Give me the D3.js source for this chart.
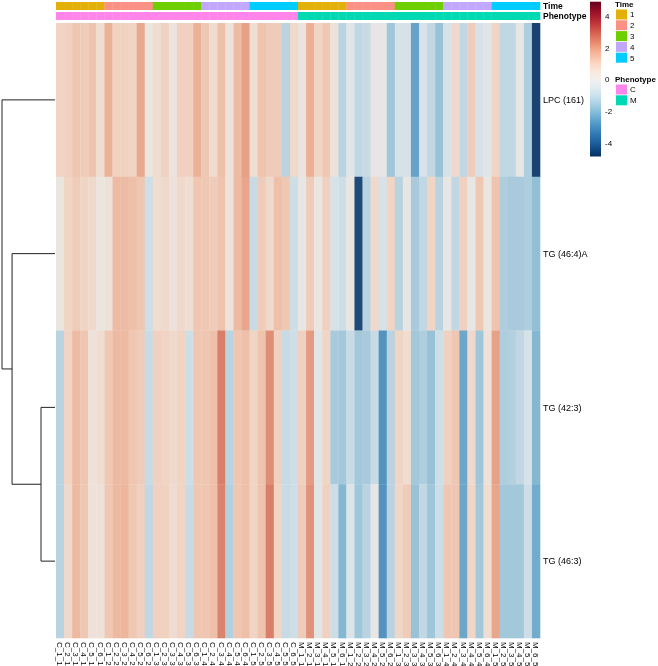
<!DOCTYPE html>
<html><head><meta charset="utf-8">
<script src="https://cdn.jsdelivr.net/npm/d3@7"></script>
<style>
body{margin:0;background:#fff}
text{font-family:"Liberation Sans",Arial,sans-serif;fill:#000}
.lbl{opacity:0.999}
</style>
</head><body>
<svg id="chart" width="658" height="666"></svg>
<script>
// ---------------- data ----------------
const colNames = [
 "C_1_1","C_2_1","C_3_1","C_4_1","C_5_1","C_6_1",
 "C_1_2","C_2_2","C_3_2","C_4_2","C_5_2","C_6_2",
 "C_1_3","C_2_3","C_3_3","C_4_3","C_5_3","C_6_3",
 "C_1_4","C_2_4","C_3_4","C_4_4","C_5_4","C_6_4",
 "C_1_5","C_2_5","C_3_5","C_4_5","C_5_5","C_6_5",
 "M_1_1","M_2_1","M_3_1","M_4_1","M_5_1","M_6_1",
 "M_1_2","M_2_2","M_3_2","M_4_2","M_5_2","M_6_2",
 "M_1_3","M_2_3","M_3_3","M_4_3","M_5_3","M_6_3",
 "M_1_4","M_2_4","M_3_4","M_4_4","M_5_4","M_6_4",
 "M_1_5","M_2_5","M_3_5","M_4_5","M_5_5","M_6_5"
];
const rowNames = ["LPC (161)","TG (46:4)A","TG (42:3)","TG (46:3)"];

const lpc161 = [
 0.9,1.0,1.25,1.1,1.3,0.6, 1.7,0.95,0.95,0.9,1.85,0.2,
 0.6,1.0,0.3,1.0,1.0,1.7, 1.2,0.65,1.4,0.4,1.5,2.0,
 0.6,1.3,1.1,1.1,-1.25,0.75,
 0.3,1.7,0.9,1.2,0.4,-1.25, -0.3,-1.1,-0.95,0.0,0.0,-1.7,
 -0.6,-0.6,-2.6,-0.6,-1.1,-1.8, -0.6,0.75,-1.1,1.1,-0.6,-0.3,
 0.9,-1.1,-1.1,0.0,-1.45,-4.75
];
const tg464A = [
 0.2,0.9,1.1,0.9,0.75,0.2, 0.4,1.5,1.5,1.4,1.25,-0.8,
 0.6,0.75,0.4,0.75,0.6,1.25, 1.2,1.1,1.3,0.4,1.55,1.9,
 -0.95,1.1,0.75,1.4,1.2,-0.8,
 0.0,1.1,0.2,1.0,-0.6,-0.8, 0.2,-4.6,-1.25,0.75,-0.6,0.9,
 -1.25,0.0,-1.55,-1.1,0.9,-1.25, 0.0,-1.1,1.0,0.0,1.2,0.2,
 1.3,-1.45,-1.55,-1.55,-1.45,-1.9
];
const tg423 = [
 -1.25,0.9,1.5,1.25,0.4,0.6, 1.2,1.55,1.55,1.25,1.1,-0.95,
 1.0,0.9,0.75,0.9,-0.8,1.25, 1.25,1.4,2.6,-1.25,1.25,1.4,
 0.9,1.3,2.3,1.0,-0.95,-0.8,
 1.0,2.1,-0.3,0.9,-1.55,-1.65, -0.95,-1.65,-1.55,-0.95,-2.95,-1.25,
 0.9,0.6,-1.65,-1.45,-1.8,-0.8, 1.0,1.25,-2.5,0.75,-1.7,0.4,
 2.0,-1.45,-1.35,-1.1,-0.6,-2.1
];
const tg463 = [
 -1.25,0.75,1.55,1.2,0.4,0.4, 1.2,1.55,1.6,1.2,1.0,-1.1,
 1.0,0.95,0.65,0.9,-0.95,1.25, 1.25,1.4,2.5,-1.35,1.25,1.4,
 0.9,1.3,2.6,0.9,-0.95,-0.8,
 1.1,2.25,-0.3,1.0,-0.85,-2.1, -0.45,-1.7,-1.25,0.0,-2.95,-1.25,
 0.85,1.1,-1.8,-1.1,-1.7,-0.85, 1.25,1.25,-2.5,0.85,-1.65,0.6,
 1.9,-1.65,-1.65,-1.65,-0.8,-2.4
];
const rowValues = [lpc161, tg464A, tg423, tg463];

const timeLevels = ["1","2","3","4","5"];
const timeColors = ["#E2B007","#FA9184","#6ECF00","#C2A7FF","#00CCFF"];
const phenoLevels = ["C","M"];
const phenoColors = ["#FF85EB","#00D9B2"];
const legendTicks = [4,2,0,-2,-4];
const colorRange = [-4.85, 4.9];
// row clustering: merges with heights (relative to root)
const dendroMerges = [
  {left:"TG (42:3)", right:"TG (46:3)", height:0.264},
  {left:"TG (46:4)A", right:0, height:0.81},
  {left:"LPC (161)", right:1, height:1.0}
];

// ---------------- drawing ----------------
const svg = d3.select("#chart");
const x = d3.scaleBand().domain(colNames).range([56,540]);
const y = d3.scaleBand().domain(rowNames).range([23,638]);
const cs = d3.scaleLinear().domain(colorRange).range([1,0]);
const baseColor = v => d3.interpolateRdBu(cs(v));
const cellColor = v => d3.interpolateRgb(baseColor(v), "#A0A0A0")(0.12);

const timeOf = c => c.split("_")[2];
const phenoOf = c => c.split("_")[0];
const timeScale = d3.scaleOrdinal(timeLevels, timeColors);
const phenoScale = d3.scaleOrdinal(phenoLevels, phenoColors);

// heatmap cells
const cells = [];
rowValues.forEach((arr,ri)=>arr.forEach((v,ci)=>cells.push({r:rowNames[ri],c:colNames[ci],v})));
svg.append("g").selectAll("rect").data(cells).join("rect")
  .attr("x",d=>x(d.c)).attr("y",d=>y(d.r))
  .attr("width",x.bandwidth()+0.3).attr("height",y.bandwidth()+0.3)
  .attr("fill",d=>cellColor(d.v));

// annotation tracks
const annTime = {y:2,h:8}, annPheno = {y:12,h:8};
svg.append("g").selectAll("rect").data(colNames).join("rect")
  .attr("x",d=>x(d)).attr("y",annTime.y).attr("width",x.bandwidth()+0.3).attr("height",annTime.h)
  .attr("fill",d=>timeScale(timeOf(d)));
svg.append("g").selectAll("rect").data(colNames).join("rect")
  .attr("x",d=>x(d)).attr("y",annPheno.y).attr("width",x.bandwidth()+0.3).attr("height",annPheno.h)
  .attr("fill",d=>phenoScale(phenoOf(d)));
const lab = svg.append("g").attr("class","lbl");
lab.append("text").attr("x",543).attr("y",annTime.y+annTime.h/2).attr("dy","0.35em")
  .attr("font-size",8.5).attr("font-weight","bold").text("Time");
lab.append("text").attr("x",543).attr("y",annPheno.y+annPheno.h/2).attr("dy","0.35em")
  .attr("font-size",8.5).attr("font-weight","bold").text("Phenotype");

// row labels
lab.append("g").selectAll("text").data(rowNames).join("text")
  .attr("x",543).attr("y",d=>y(d)+y.bandwidth()/2).attr("dy","0.35em")
  .attr("font-size",9).text(d=>d);

// column labels
lab.append("g").selectAll("text").data(colNames).join("text")
  .attr("transform",d=>`translate(${x(d)+x.bandwidth()/2},642) rotate(90)`)
  .attr("dy","0.35em").attr("font-size",8).attr("fill","#222").text(d=>d);

// dendrogram
const hx = d3.scaleLinear().domain([0,1]).range([55,2]);
const nodes = [];
const posOf = k => typeof k === "number" ? nodes[k] : {y:y(k)+y.bandwidth()/2, h:0};
const dg = svg.append("g").attr("fill","none").attr("stroke","#222").attr("stroke-width",1);
dendroMerges.forEach(m=>{
  const a = posOf(m.left), b = posOf(m.right);
  const xn = hx(m.height);
  dg.append("path").attr("d",
    `M${hx(a.h)},${a.y}H${xn}V${b.y}H${hx(b.h)}`);
  nodes.push({y:(a.y+b.y)/2, h:m.height});
});

// color bar legend
const lgY = d3.scaleLinear().domain([4,-4]).range([16,143]);
const barTop = lgY(colorRange[1]), barBot = lgY(colorRange[0]);
const defs = svg.append("defs");
const grad = defs.append("linearGradient").attr("id","cb").attr("x1",0).attr("x2",0).attr("y1",0).attr("y2",1);
d3.range(0,1.0001,0.05).forEach(t=>{
  const v = colorRange[1] - t*(colorRange[1]-colorRange[0]);
  grad.append("stop").attr("offset",t).attr("stop-color",baseColor(v));
});
svg.append("rect").attr("x",590).attr("y",barTop).attr("width",11).attr("height",barBot-barTop).attr("fill","url(#cb)");
lab.append("g").selectAll("text").data(legendTicks).join("text")
  .attr("x",605).attr("y",d=>lgY(d)).attr("dy","0.35em").attr("font-size",8)
  .text(d=>d < 0 ? "-" + Math.abs(d) : d);

// annotation legends
function catLegend(title, levels, colors, y0){
  lab.append("text").attr("x",615).attr("y",y0).attr("dy","0.35em").attr("font-size",8)
    .attr("font-weight","bold").text(title);
  const g = svg.append("g");
  levels.forEach((l,i)=>{
    const yy = y0 + 5 + i*10.8;
    g.append("rect").attr("x",616).attr("y",yy).attr("width",11).attr("height",10).attr("fill",colors[i]);
    lab.append("text").attr("x",630).attr("y",yy+5).attr("dy","0.35em").attr("font-size",8).text(l);
  });
}
catLegend("Time", timeLevels, timeColors, 4.5);
catLegend("Phenotype", phenoLevels, phenoColors, 79.5);
</script>
</body></html>
